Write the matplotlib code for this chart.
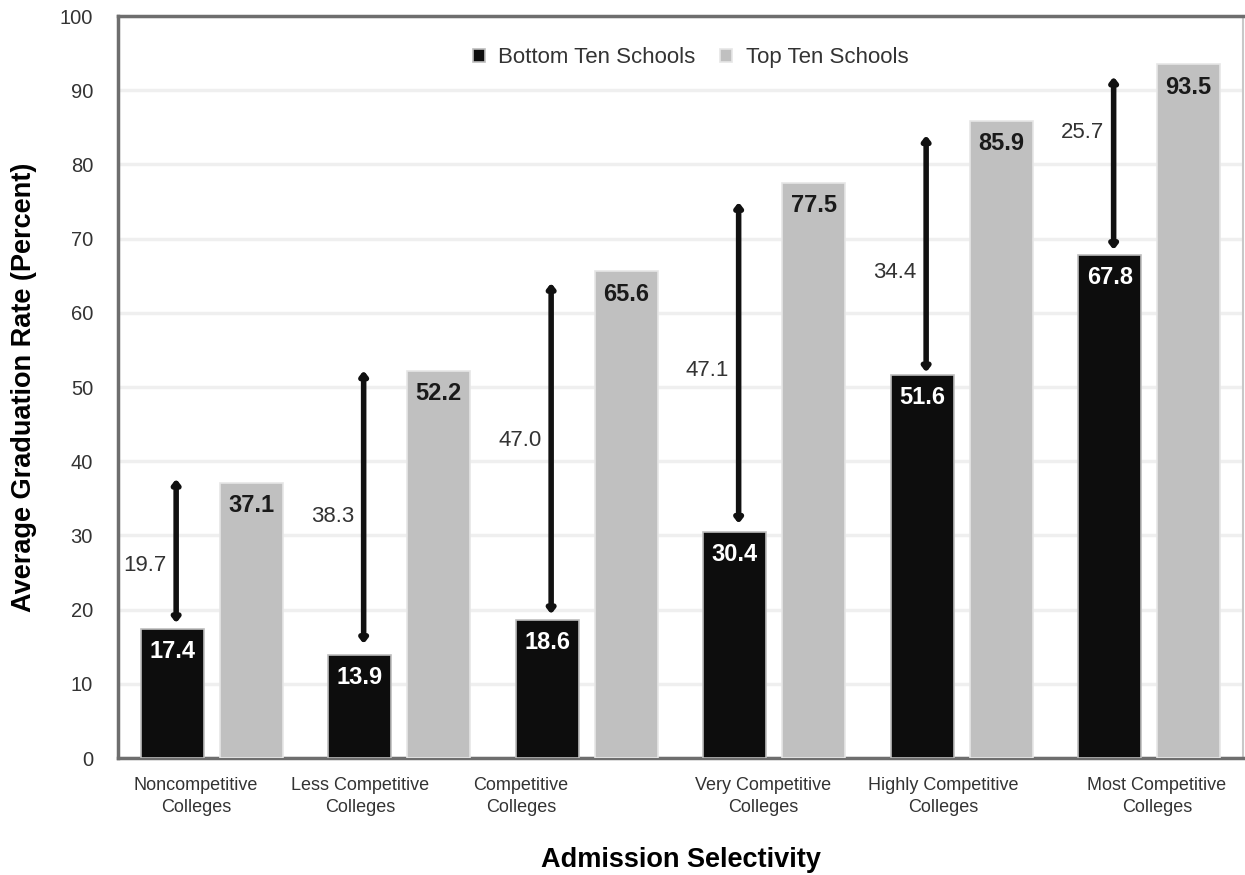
import matplotlib
matplotlib.use("Agg")
import matplotlib.pyplot as plt
import numpy as np

# data
categories = ["Noncompetitive\nColleges", "Less Competitive\nColleges", "Competitive\nColleges",
              "Very Competitive\nColleges", "Highly Competitive\nColleges", "Most Competitive\nColleges"]
bottom_ten = [17.4, 13.9, 18.6, 30.4, 51.6, 67.8]
top_ten = [37.1, 52.2, 65.6, 77.5, 85.9, 93.5]
gap_labels = ["19.7", "38.3", "47.0", "47.1", "34.4", "25.7"]
arrow_low = [18.2, 15.4, 19.4, 31.6, 52.0, 68.5]
arrow_high = [37.6, 52.2, 64.0, 74.9, 83.9, 91.8]
gap_label_y = [25.9, 32.5, 42.8, 52.2, 65.4, 84.3]

# layout
label_shift = [-0.085, -0.21, -0.35, -0.06, -0.10, 0.04]
width = 0.335
offset = 0.21
plt.rcParams['font.family'] = ['Liberation Sans', 'DejaVu Sans']

fig = plt.figure(figsize=(12.45, 8.75), dpi=100)
ax = fig.add_axes([0.0948, 0.1337, 0.9036, 0.848])

x = np.arange(len(categories))
ax.bar(x - offset, bottom_ten, width, color='#0d0d0d', edgecolor='#bdbdbd', linewidth=1.2,
       label='Bottom Ten Schools', zorder=3)
ax.bar(x + offset, top_ten, width, color='#c0c0c0', edgecolor='#e6e6e6', linewidth=1.2,
       label='Top Ten Schools', zorder=3)

for i in range(len(categories)):
    ax.text(x[i] - offset, bottom_ten[i] - 3.0, f"{bottom_ten[i]:.1f}", ha='center', va='center',
            color='white', fontsize=17, fontweight='bold', zorder=5)
    ax.text(x[i] + offset, top_ten[i] - 3.1, f"{top_ten[i]:.1f}", ha='center', va='center',
            color='#1a1a1a', fontsize=17, fontweight='bold', zorder=5)
    ax.annotate("", xy=(x[i] - offset + 0.02, arrow_high[i]), xytext=(x[i] - offset + 0.02, arrow_low[i]),
                arrowprops=dict(arrowstyle='<|-|>,head_length=0.25,head_width=0.2', lw=4,
                                color='#111111', shrinkA=0, shrinkB=0), zorder=4)
    ax.annotate(gap_labels[i], xy=(x[i] - offset + 0.02, gap_label_y[i]), xytext=(-7, 0),
                textcoords='offset points', ha='right', va='center', fontsize=16, color='#333333')

ax.set_xlim(-0.5, 5.5)
ax.set_ylim(0, 100)
ax.set_yticks(range(0, 101, 10))
ax.tick_params(axis='y', length=0, pad=18, labelsize=14.5, labelcolor='#333333')
ax.set_xticks(x + np.array(label_shift))
ax.set_xticklabels(categories, fontsize=13, color='#333333', linespacing=1.35)
ax.tick_params(axis='x', length=0, pad=14)

ax.grid(axis='y', color='#efefef', linewidth=2.5, zorder=0)
ax.set_axisbelow(True)
for side in ['left', 'top', 'bottom']:
    ax.spines[side].set_color('#6e6e6e')
    ax.spines[side].set_linewidth(2.5)
ax.spines['right'].set_color('#c8c8c8')
ax.spines['right'].set_linewidth(1.5)

ax.set_ylabel('Average Graduation Rate (Percent)', fontsize=19.5, fontweight='bold', labelpad=16)
ax.set_xlabel('Admission Selectivity', fontsize=19.5, fontweight='bold', labelpad=22)

ax.legend(loc='upper center', bbox_to_anchor=(0.509, 0.985), ncol=2, frameon=False, fontsize=16,
          handlelength=0.55, handleheight=0.55, handletextpad=0.6, columnspacing=1.1,
          labelcolor='#333333')

fig.savefig("out.png", dpi=100)
